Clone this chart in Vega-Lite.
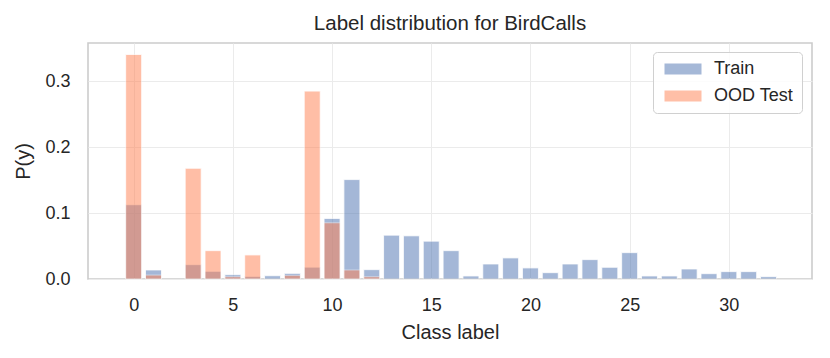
{
  "$schema": "https://vega.github.io/schema/vega-lite/v6.json",
  "autosize": {"type": "none"},
  "padding": {"left": 88, "top": 43, "right": 18, "bottom": 79},
  "width": 724,
  "height": 236,
  "background": "white",
  "title": {
    "text": "Label distribution for BirdCalls",
    "font": "Liberation Sans",
    "fontSize": 20.5,
    "fontWeight": "normal",
    "color": "#262626",
    "offset": 9
  },
  "data": {
    "values": [
      {"cls": 0, "split": "Train", "p": 0.1127},
      {"cls": 1, "split": "Train", "p": 0.0137},
      {"cls": 3, "split": "Train", "p": 0.0218},
      {"cls": 4, "split": "Train", "p": 0.0117},
      {"cls": 5, "split": "Train", "p": 0.0066},
      {"cls": 6, "split": "Train", "p": 0.004},
      {"cls": 7, "split": "Train", "p": 0.005},
      {"cls": 8, "split": "Train", "p": 0.0086},
      {"cls": 9, "split": "Train", "p": 0.018},
      {"cls": 10, "split": "Train", "p": 0.0919},
      {"cls": 11, "split": "Train", "p": 0.1508},
      {"cls": 12, "split": "Train", "p": 0.0142},
      {"cls": 13, "split": "Train", "p": 0.0665},
      {"cls": 14, "split": "Train", "p": 0.0655},
      {"cls": 15, "split": "Train", "p": 0.0574},
      {"cls": 16, "split": "Train", "p": 0.043},
      {"cls": 17, "split": "Train", "p": 0.0046},
      {"cls": 18, "split": "Train", "p": 0.0228},
      {"cls": 19, "split": "Train", "p": 0.032},
      {"cls": 20, "split": "Train", "p": 0.0168},
      {"cls": 21, "split": "Train", "p": 0.0096},
      {"cls": 22, "split": "Train", "p": 0.0228},
      {"cls": 23, "split": "Train", "p": 0.0294},
      {"cls": 24, "split": "Train", "p": 0.0178},
      {"cls": 25, "split": "Train", "p": 0.040},
      {"cls": 26, "split": "Train", "p": 0.0046},
      {"cls": 27, "split": "Train", "p": 0.0046},
      {"cls": 28, "split": "Train", "p": 0.0152},
      {"cls": 29, "split": "Train", "p": 0.0081},
      {"cls": 30, "split": "Train", "p": 0.0112},
      {"cls": 31, "split": "Train", "p": 0.0112},
      {"cls": 32, "split": "Train", "p": 0.0036},
      {"cls": 0, "split": "OOD Test", "p": 0.3406},
      {"cls": 1, "split": "OOD Test", "p": 0.006},
      {"cls": 3, "split": "OOD Test", "p": 0.168},
      {"cls": 4, "split": "OOD Test", "p": 0.043},
      {"cls": 5, "split": "OOD Test", "p": 0.0035},
      {"cls": 6, "split": "OOD Test", "p": 0.0365},
      {"cls": 8, "split": "OOD Test", "p": 0.0056},
      {"cls": 9, "split": "OOD Test", "p": 0.285},
      {"cls": 10, "split": "OOD Test", "p": 0.0853},
      {"cls": 11, "split": "OOD Test", "p": 0.0137},
      {"cls": 12, "split": "OOD Test", "p": 0.0035}
    ]
  },
  "mark": {"type": "bar", "size": 16, "opacity": 0.5, "stroke": "white", "strokeWidth": 0.8},
  "encoding": {
    "x": {
      "field": "cls",
      "type": "quantitative",
      "scale": {"domain": [-2.05, 33.94], "nice": false, "zero": false},
      "axis": {"values": [0, 5, 10, 15, 20, 25, 30], "title": "Class label", "labelPadding": 17, "titlePadding": 8}
    },
    "y": {
      "field": "p",
      "type": "quantitative",
      "stack": null,
      "scale": {"domain": [0, 0.358], "nice": false},
      "axis": {"values": [0, 0.1, 0.2, 0.3], "format": ".1f", "title": "P(y)", "labelPadding": 18, "titlePadding": 11}
    },
    "color": {
      "field": "split",
      "type": "nominal",
      "scale": {"domain": ["Train", "OOD Test"], "range": ["#4c72b0", "#ff7f50"]},
      "legend": {
        "title": null,
        "orient": "none",
        "legendX": 565,
        "legendY": 9,
        "padding": 8,
        "symbolType": "M-3.364,-1H3.364V1H-3.364Z",
        "symbolSize": 121,
        "symbolOffset": 13,
        "symbolOpacity": 0.5,
        "symbolStrokeWidth": 0,
        "labelOffset": 22,
        "labelFontSize": 18,
        "labelFont": "Liberation Sans",
        "labelColor": "#262626",
        "rowPadding": 9,
        "fillColor": "rgba(255,255,255,0.85)",
        "strokeColor": "#d0d0d0",
        "cornerRadius": 4
      }
    }
  },
  "config": {
    "view": {"stroke": "#cccccc", "strokeWidth": 1.6},
    "axis": {
      "domain": false,
      "ticks": false,
      "grid": true,
      "gridColor": "#ebebeb",
      "gridWidth": 1,
      "labelFont": "Liberation Sans",
      "labelFontSize": 18,
      "labelColor": "#262626",
      "titleFont": "Liberation Sans",
      "titleFontSize": 20,
      "titleFontWeight": "normal",
      "titleColor": "#262626"
    }
  }
}
